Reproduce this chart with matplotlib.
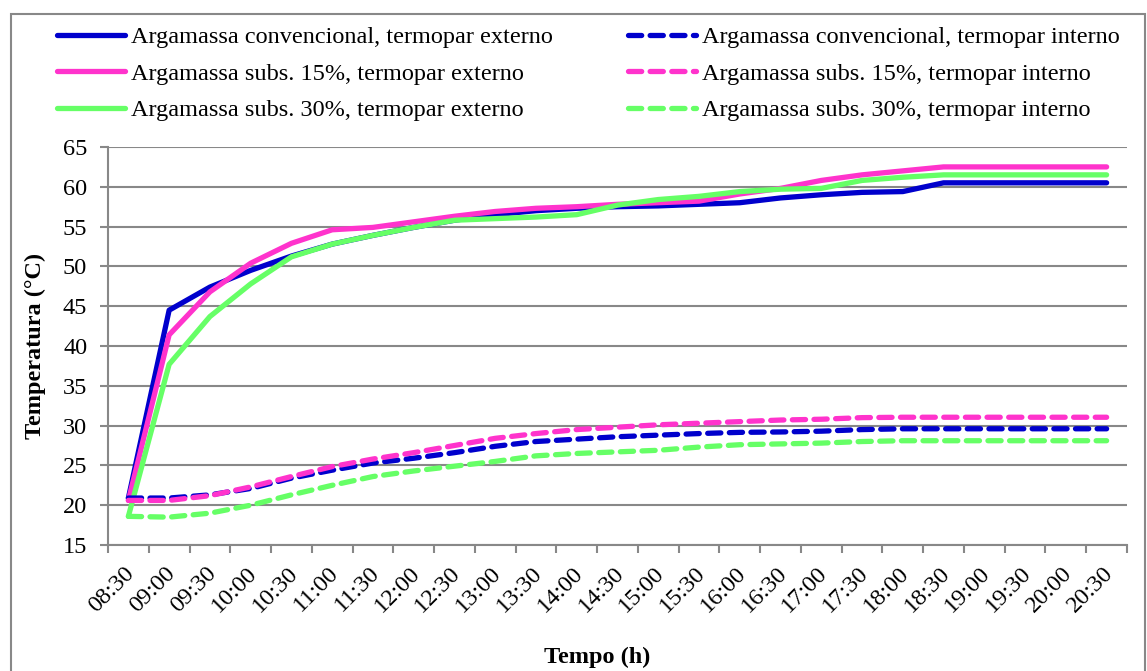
import numpy as np
import matplotlib.pyplot as plt
import matplotlib.transforms as mtransforms
from matplotlib.patches import Rectangle

# horario das leituras (a cada 30 min)
tempos = ["08:30", "09:00", "09:30", "10:00", "10:30", "11:00", "11:30",
          "12:00", "12:30", "13:00", "13:30", "14:00", "14:30", "15:00",
          "15:30", "16:00", "16:30", "17:00", "17:30", "18:00", "18:30",
          "19:00", "19:30", "20:00", "20:30"]

# termopar externo
conv_ext = [20.9, 44.5, 47.4, 49.5, 51.3, 52.8, 53.9, 54.9, 55.8, 56.5, 57.0,
            57.3, 57.5, 57.6, 57.8, 58.0, 58.6, 59.0, 59.3, 59.4, 60.5, 60.5,
            60.5, 60.5, 60.5]
s15_ext = [20.6, 41.4, 46.8, 50.4, 52.9, 54.6, 54.9, 55.6, 56.3, 56.9, 57.3,
           57.5, 57.8, 58.0, 58.2, 59.1, 59.8, 60.8, 61.5, 62.0, 62.5, 62.5,
           62.5, 62.5, 62.5]
s30_ext = [18.6, 37.7, 43.7, 47.8, 51.2, 52.8, 53.9, 54.9, 55.8, 56.0, 56.2,
           56.5, 57.7, 58.4, 58.8, 59.4, 59.7, 59.8, 60.8, 61.2, 61.5, 61.5,
           61.5, 61.5, 61.5]

# termopar interno
conv_int = [20.9, 20.9, 21.3, 22.1, 23.4, 24.4, 25.3, 25.9, 26.6, 27.4, 28.0,
            28.3, 28.6, 28.8, 29.0, 29.15, 29.2, 29.3, 29.5, 29.6, 29.6, 29.6,
            29.6, 29.6, 29.6]
s15_int = [20.6, 20.6, 21.2, 22.3, 23.6, 24.85, 25.8, 26.6, 27.5, 28.4, 29.0,
           29.5, 29.8, 30.1, 30.3, 30.5, 30.7, 30.8, 31.0, 31.05, 31.05, 31.05,
           31.05, 31.05, 31.05]
s30_int = [18.6, 18.5, 19.0, 20.0, 21.3, 22.5, 23.6, 24.3, 24.9, 25.5, 26.2,
           26.5, 26.7, 26.9, 27.3, 27.6, 27.7, 27.8, 28.0, 28.1, 28.1, 28.1,
           28.1, 28.1, 28.1]

AZUL = '#0000CC'
ROSA = '#FF33CC'
VERDE = '#66FF66'
CINZA = '#888888'

plt.rcParams['font.family'] = ['Liberation Serif', 'DejaVu Serif']
fs = 17.5

fig = plt.figure(figsize=(11.47, 6.71), dpi=100)
ax = fig.add_axes([108 / 1147, 1 - 545 / 671, (1127 - 108) / 1147, (545 - 147) / 671])

x = np.arange(len(tempos))
lw = 3.8
dash = (2.5, 1.6)

series = [
    (conv_ext, AZUL, '-', 'Argamassa convencional, termopar externo'),
    (s15_ext, ROSA, '-', 'Argamassa subs. 15%, termopar externo'),
    (s30_ext, VERDE, '-', 'Argamassa subs. 30%, termopar externo'),
    (conv_int, AZUL, '--', 'Argamassa convencional, termopar interno'),
    (s15_int, ROSA, '--', 'Argamassa subs. 15%, termopar interno'),
    (s30_int, VERDE, '--', 'Argamassa subs. 30%, termopar interno'),
]
handles = []
for vals, cor, ls, nome in series:
    if ls == '--':
        h, = ax.plot(x, vals, color=cor, lw=lw, dashes=dash,
                     dash_capstyle='round', label=nome)
    else:
        h, = ax.plot(x, vals, color=cor, lw=lw, solid_capstyle='round',
                     solid_joinstyle='round', label=nome)
    handles.append(h)

ax.set_xlim(-0.5, len(tempos) - 0.5)
ax.set_ylim(15, 65)
ax.set_yticks(np.arange(15, 66, 5))
ax.yaxis.grid(True, color=CINZA, lw=1.5)
ax.set_axisbelow(True)

# ticks nos limites das categorias, rotulos no centro
ax.set_xticks(np.arange(-0.5, len(tempos)), [])
ax.set_xticks(x, tempos, minor=True)
ax.tick_params(axis='x', which='major', length=6, width=1.5, color=CINZA)
ax.tick_params(axis='x', which='minor', length=0, labelsize=fs, pad=18)
ax.tick_params(axis='y', length=6, width=1.5, color=CINZA, labelsize=fs, pad=9)
desloc = mtransforms.ScaledTranslation(3 / 100, 0, fig.dpi_scale_trans)
for lab in ax.get_xticklabels(minor=True):
    lab.set_rotation(45)
    lab.set_ha('right')
    lab.set_va('center')
    lab.set_rotation_mode('anchor')
    lab.set_transform(lab.get_transform() + desloc)

for s in ['top', 'right']:
    ax.spines[s].set_visible(False)
for s in ['left', 'bottom']:
    ax.spines[s].set_color(CINZA)
    ax.spines[s].set_linewidth(1.5)

ax.set_ylabel('Temperatura (°C)', fontsize=fs, fontweight='bold', labelpad=12)
fig.text(597 / 1147, 1 - 657 / 671, 'Tempo (h)', fontsize=fs,
         fontweight='bold', ha='center', va='center')

fig.legend(handles=handles, loc='upper left', ncol=2,
           bbox_to_anchor=(57 / 1147, 1 - 26 / 671), frameon=False,
           fontsize=fs, handlelength=2.8, handletextpad=0.25,
           columnspacing=3.1, labelspacing=0.6, borderpad=0,
           borderaxespad=0)

# moldura da area do grafico
fig.patches.append(Rectangle((11 / 1147, -0.05), (1145 - 11) / 1147,
                             1 - 14 / 671 + 0.05, transform=fig.transFigure,
                             fill=False, edgecolor=CINZA, lw=1.5))

plt.savefig('out.png', dpi=100)
